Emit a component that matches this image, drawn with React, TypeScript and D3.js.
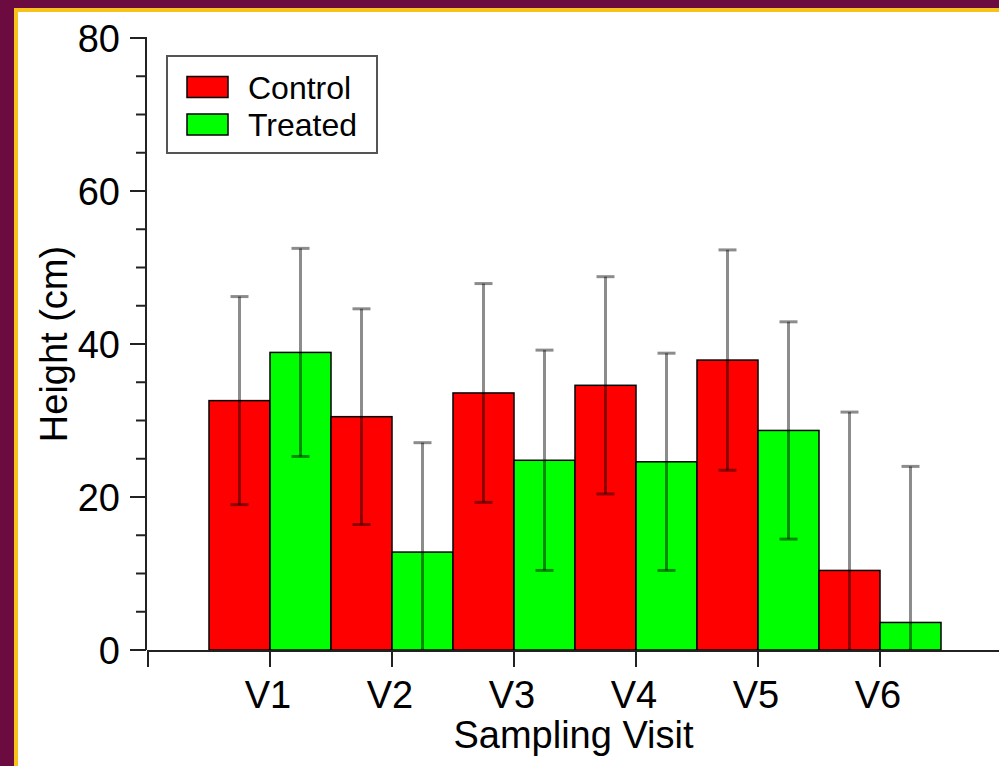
import React, { useEffect, useRef } from 'react';
import * as d3 from 'd3';

// values
const visits = ['V1', 'V2', 'V3', 'V4', 'V5', 'V6'];
const controlMeans = [32.6, 30.5, 33.6, 34.6, 37.9, 10.4];
const controlErrors = [13.6, 14.1, 14.3, 14.2, 14.4, 20.7];
const treatedMeans = [38.9, 12.8, 24.8, 24.6, 28.7, 3.6];
const treatedErrors = [13.6, 14.3, 14.4, 14.2, 14.2, 20.4];
const yMajorTicks = [0, 20, 40, 60, 80];
const seriesNames = ['Control', 'Treated'];
const seriesColors = ['#ff0000', '#00ff00'];

function App() {
  const chartRef = useRef<SVGSVGElement | null>(null);

  useEffect(() => {
    const width = 999;
    const height = 766;
    const font = '"Liberation Sans", Arial, sans-serif';

    const svg = d3.select(chartRef.current);
    svg.selectAll('*').remove();

    // slide frame
    svg.append('rect').attr('width', width).attr('height', height).attr('fill', '#6c0b3f');
    svg.append('rect').attr('x', 14).attr('y', 8).attr('width', width).attr('height', height).attr('fill', '#f8c21c');
    svg.append('rect').attr('x', 18).attr('y', 12).attr('width', width).attr('height', height).attr('fill', '#ffffff');

    const x = d3.scaleLinear().domain([0, 7]).range([148, 1002]);
    const y = d3.scaleLinear().domain([0, 80]).range([650, 38]);

    const rows = visits.map((v, i) => ({
      visit: v,
      pos: i + 1,
      values: [
        { mean: controlMeans[i], err: controlErrors[i], s: 0 },
        { mean: treatedMeans[i], err: treatedErrors[i], s: 1 },
      ],
    }));

    // bars
    const half = 0.5;
    rows.forEach((r) => {
      r.values.forEach((d) => {
        const x0 = d.s === 0 ? r.pos - half : r.pos;
        const x1 = x0 + half;
        svg.append('rect')
          .attr('x', x(x0))
          .attr('y', y(d.mean))
          .attr('width', x(x1) - x(x0))
          .attr('height', y(0) - y(d.mean))
          .attr('fill', seriesColors[d.s])
          .attr('stroke', '#000')
          .attr('stroke-width', 1.5);
      });
    });

    // error bars
    rows.forEach((r) => {
      r.values.forEach((d) => {
        const cx = x(d.s === 0 ? r.pos - half / 2 : r.pos + half / 2);
        const lo = Math.max(0, d.mean - d.err);
        const hi = d.mean + d.err;
        const g = svg.append('g')
          .attr('stroke', 'rgba(0,0,0,0.45)')
          .attr('stroke-width', 3);
        g.append('line').attr('x1', cx).attr('x2', cx).attr('y1', y(hi)).attr('y2', y(lo));
        g.append('line').attr('x1', cx - 9).attr('x2', cx + 9).attr('y1', y(hi)).attr('y2', y(hi));
        if (d.mean - d.err > 0) {
          g.append('line').attr('x1', cx - 9).attr('x2', cx + 9).attr('y1', y(lo)).attr('y2', y(lo));
        }
      });
    });

    // y axis
    svg.append('line')
      .attr('x1', 146).attr('x2', 146)
      .attr('y1', y(80) - 1).attr('y2', y(0))
      .attr('stroke', '#222').attr('stroke-width', 2);
    d3.range(0, 81, 5).forEach((t) => {
      const major = t % 20 === 0;
      svg.append('line')
        .attr('x1', major ? 130 : 136).attr('x2', 146)
        .attr('y1', y(t)).attr('y2', y(t))
        .attr('stroke', '#222').attr('stroke-width', 2);
    });
    svg.append('g').selectAll('text')
      .data(yMajorTicks)
      .enter()
      .append('text')
      .attr('x', 120)
      .attr('y', (d) => y(d))
      .attr('dy', '0.37em')
      .attr('text-anchor', 'end')
      .attr('font-family', font)
      .attr('font-size', 38)
      .attr('fill', '#000')
      .text((d) => d);

    svg.append('text')
      .attr('transform', `translate(67,${(y(0) + y(80)) / 2}) rotate(-90)`)
      .attr('text-anchor', 'middle')
      .attr('font-family', font)
      .attr('font-size', 38)
      .attr('fill', '#000')
      .text('Height (cm)');

    // x axis
    svg.append('line')
      .attr('x1', x(0) - 1).attr('x2', width)
      .attr('y1', 651).attr('y2', 651)
      .attr('stroke', '#222').attr('stroke-width', 2);
    d3.range(0, 7).forEach((t) => {
      svg.append('line')
        .attr('x1', x(t)).attr('x2', x(t))
        .attr('y1', 651).attr('y2', 667)
        .attr('stroke', '#222').attr('stroke-width', 2);
    });
    svg.append('g').selectAll('text')
      .data(rows)
      .enter()
      .append('text')
      .attr('x', (d) => x(d.pos) - 2)
      .attr('y', 708)
      .attr('text-anchor', 'middle')
      .attr('font-family', font)
      .attr('font-size', 38)
      .attr('fill', '#000')
      .text((d) => d.visit);

    svg.append('text')
      .attr('x', (x(0) + width) / 2)
      .attr('y', 748)
      .attr('text-anchor', 'middle')
      .attr('font-family', font)
      .attr('font-size', 38)
      .attr('fill', '#000')
      .text('Sampling Visit');

    // legend
    const legend = svg.append('g');
    legend.append('rect')
      .attr('x', 167).attr('y', 56)
      .attr('width', 210).attr('height', 97)
      .attr('fill', '#fff')
      .attr('stroke', '#555')
      .attr('stroke-width', 2);
    seriesNames.forEach((name, i) => {
      const cy = 87 + i * 37.5;
      legend.append('rect')
        .attr('x', 187).attr('y', cy - 10.5)
        .attr('width', 41).attr('height', 21)
        .attr('fill', seriesColors[i])
        .attr('stroke', '#000')
        .attr('stroke-width', 1.5);
      legend.append('text')
        .attr('x', 248).attr('y', cy)
        .attr('dy', '0.36em')
        .attr('font-family', font)
        .attr('font-size', 32)
        .attr('fill', '#000')
        .text(name);
    });
  }, []);

  return (
    <svg
      ref={chartRef}
      width={999}
      height={766}
      style={{ position: 'absolute', left: 0, top: 0, display: 'block' }}
    />
  );
}

export default App;
